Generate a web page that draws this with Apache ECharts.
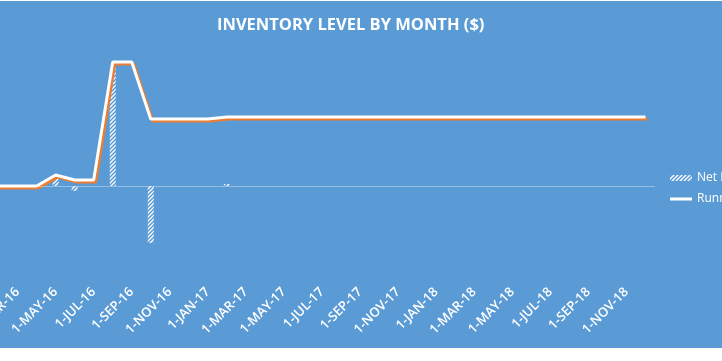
<!DOCTYPE html>
<html>
<head>
<meta charset="utf-8">
<script src="https://cdn.jsdelivr.net/npm/echarts@6/dist/echarts.min.js"></script>
<style>
  html, body { margin: 0; padding: 0; background: #ffffff; }
  #c { position: absolute; left: 0; top: 1px; width: 722px; height: 347px; }
</style>
</head>
<body>
<div id="c"></div>
<script>
const months = [
  '1-JAN-16','1-FEB-16','1-MAR-16','1-APR-16','1-MAY-16','1-JUN-16','1-JUL-16','1-AUG-16','1-SEP-16','1-OCT-16','1-NOV-16','1-DEC-16',
  '1-JAN-17','1-FEB-17','1-MAR-17','1-APR-17','1-MAY-17','1-JUN-17','1-JUL-17','1-AUG-17','1-SEP-17','1-OCT-17','1-NOV-17','1-DEC-17',
  '1-JAN-18','1-FEB-18','1-MAR-18','1-APR-18','1-MAY-18','1-JUN-18','1-JUL-18','1-AUG-18','1-SEP-18','1-OCT-18','1-NOV-18','1-DEC-18'
];
const netMonthlyChange = [
  0, 0, 0, 0, 1100, -500, 0, 11800, 0, -5700, 0, 0,
  0, 200, 0, 0, 0, 0, 0, 0, 0, 0, 0, 0,
  0, 0, 0, 0, 0, 0, 0, 0, 0, 0, 0, 0
];
const runningTotal = [
  0, 0, 0, 0, 1100, 600, 600, 12400, 12400, 6700, 6700, 6700,
  6700, 6900, 6900, 6900, 6900, 6900, 6900, 6900, 6900, 6900, 6900, 6900,
  6900, 6900, 6900, 6900, 6900, 6900, 6900, 6900, 6900, 6900, 6900, 6900
];

// hatch pattern for bars
const tile = document.createElement('canvas');
tile.width = 4; tile.height = 4;
const g = tile.getContext('2d');
g.strokeStyle = '#ffffff';
g.lineWidth = 1.3;
g.beginPath();
g.moveTo(0, 4); g.lineTo(4, 0);
g.moveTo(-1, 1); g.lineTo(1, -1);
g.moveTo(3, 5); g.lineTo(5, 3);
g.stroke();

const chart = echarts.init(document.getElementById('c'), null, { renderer: 'canvas' });
chart.setOption({
  backgroundColor: '#5B9BD5',
  animation: false,
  title: {
    text: 'INVENTORY LEVEL BY MONTH ($)',
    left: 212,
    top: 11,
    textStyle: { color: '#ffffff', fontSize: 16.5, fontWeight: 'bold', fontFamily: 'Open Sans' }
  },
  legend: {
    orient: 'vertical',
    left: 670,
    top: 171,
    padding: 0,
    itemWidth: 22,
    itemHeight: 6,
    itemGap: 9,
    textStyle: { color: '#ffffff', fontSize: 12, fontFamily: 'Open Sans' },
    data: [
      { name: 'Net Monthly Change' },
      { name: 'Running Total', icon: 'path://M0,0 M22,6 M0,1.5 L22,1.5 L22,4.5 L0,4.5 Z', itemStyle: { color: '#ffffff' } }
    ]
  },
  grid: { left: -30, right: 67, top: 39, bottom: 66, containLabel: false, outerBoundsMode: 'none' },
  xAxis: {
    type: 'category',
    data: months,
    boundaryGap: true,
    axisLine: { show: false, onZero: false },
    axisTick: { show: false },
    axisLabel: {
      interval: 1,
      rotate: 45,
      margin: 8,
      color: '#ffffff',
      fontSize: 13,
      fontWeight: 600,
      fontFamily: 'Open Sans'
    },
    splitLine: { show: false }
  },
  yAxis: {
    type: 'value',
    min: -9600,
    max: 14600,
    show: false,
    splitLine: { show: false }
  },
  series: [
    {
      name: 'Net Monthly Change',
      type: 'bar',
      data: netMonthlyChange,
      barWidth: 6,
      itemStyle: { color: { image: tile, repeat: 'repeat' } },
      markLine: {
        silent: true,
        symbol: ['none', 'none'],
        label: { show: false },
        lineStyle: { color: 'rgba(255,255,255,0.35)', width: 1, type: 'solid' },
        data: [{ yAxis: 0 }]
      },
      z: 2
    },
    {
      name: 'Running Total',
      type: 'line',
      data: runningTotal,
      symbol: 'none',
      lineStyle: {
        color: '#ffffff',
        width: 3,
        shadowColor: '#ED7D31',
        shadowBlur: 0,
        shadowOffsetX: 2,
        shadowOffsetY: 2
      },
      itemStyle: { color: '#ffffff' },
      z: 3
    }
  ]
});
</script>
</body>
</html>
